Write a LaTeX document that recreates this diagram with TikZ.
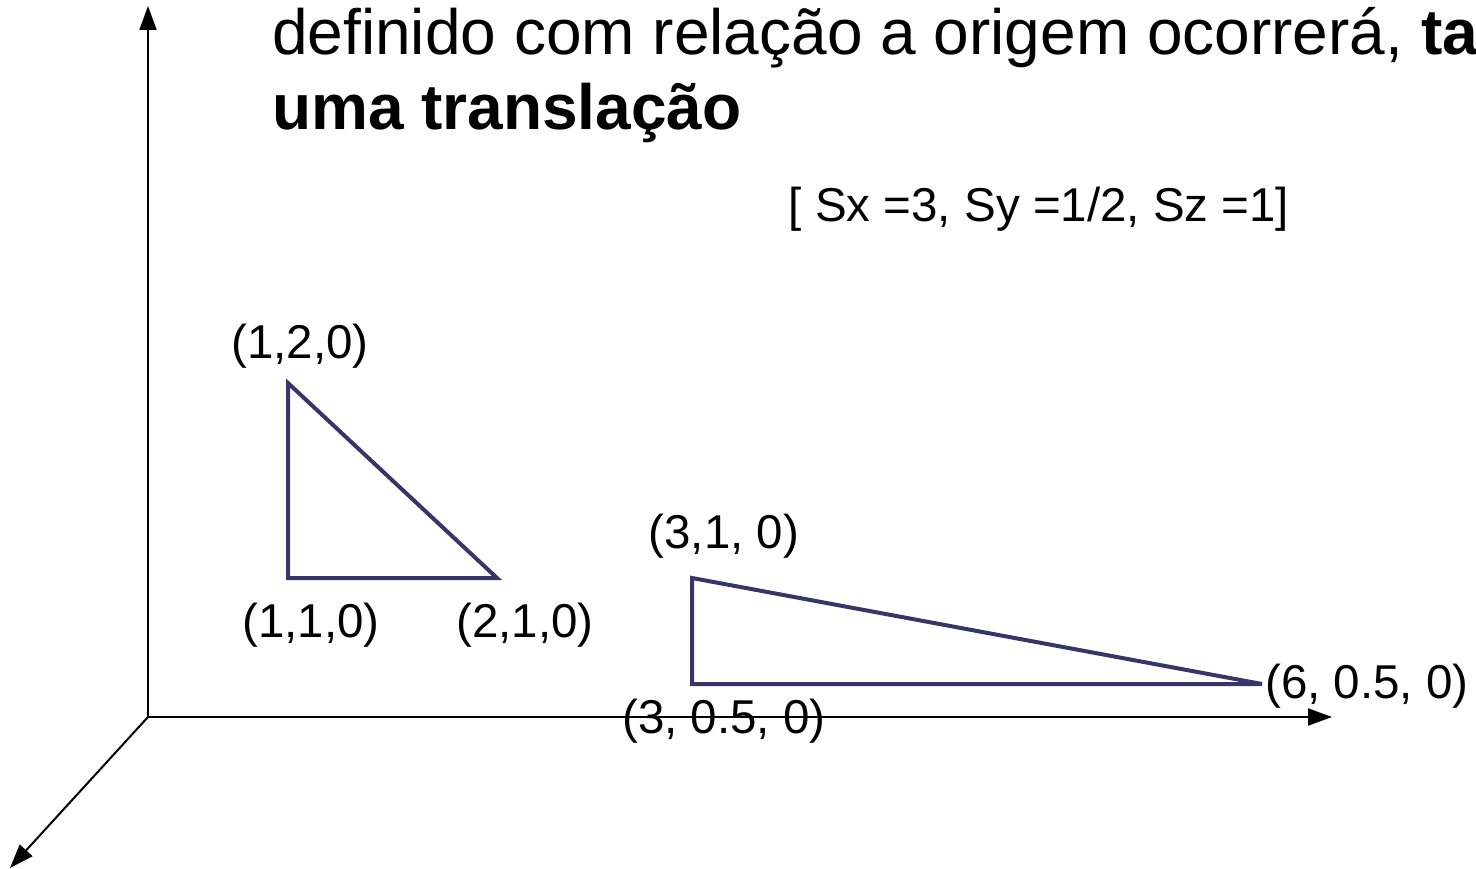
\documentclass[tikz,border=0pt]{standalone}
\usepackage{fontspec}
\setmainfont{Liberation Sans}
\usepackage{tikz}
\usetikzlibrary{arrows.meta}
\definecolor{triC}{HTML}{363668}

\begin{document}
\begin{tikzpicture}[x=1pt,y=-1pt,
  axis/.style={line width=2pt,-{Triangle[length=24pt,width=17pt]}},
  tri/.style={draw=triC,line width=4pt,line join=miter},
  lbl/.style={inner sep=0pt,anchor=base,font=\fontsize{47.5}{57}\selectfont},
  tit/.style={inner sep=0pt,anchor=base west,font=\fontsize{64}{76}\selectfont}]
\useasboundingbox (0,0) rectangle (1476,869);
% eixos
\coordinate (O) at (148,717);\coordinate (Y) at (148,6);\coordinate (X) at (1332,717);\coordinate (Z) at (10,868);
\draw[axis](O)--(Y);\draw[axis](O)--(X);\draw[axis](O)--(Z);
% titulo
\node[tit] (tit1) at (272,55) {definido com relação a origem ocorrerá, \textbf{ta}};
\node[tit] (tit2) at (272,130) {\textbf{uma translação}};
\node[lbl] (esc) at (1039,222) {[ Sx =3, Sy =1/2, Sz =1]};
% triangulo original
\coordinate (A1) at (288,383);\coordinate (B1) at (288,578);\coordinate (C1) at (497,578);
\draw[tri](A1)--(B1)--(C1)--cycle;
\node[lbl] (lA1) at (300,358) {(1,2,0)};
\node[lbl] (lB1) at (311,637) {(1,1,0)};
\node[lbl] (lC1) at (525,637) {(2,1,0)};
% triangulo escalado
\coordinate (A2) at (692,578);\coordinate (B2) at (692,684);\coordinate (C2) at (1262,684);
\draw[tri](A2)--(B2)--(C2)--cycle;
\node[lbl] (lA2) at (724,548) {(3,1, 0)};
\node[lbl] (lB2) at (724,733) {(3, 0.5, 0)};
\node[lbl,anchor=base west] (lC2) at (1265,698) {(6, 0.5, 0)};
\end{tikzpicture}
\end{document}
